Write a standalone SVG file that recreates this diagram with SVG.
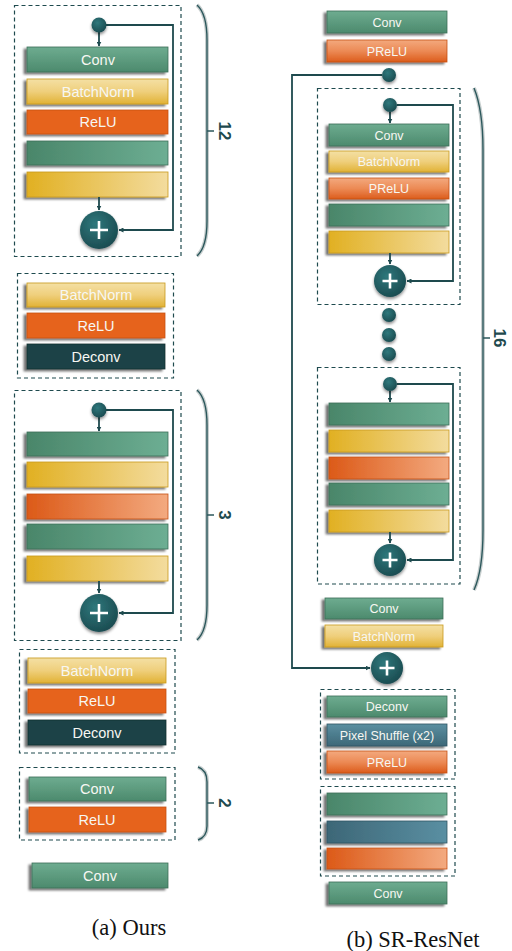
<svg xmlns="http://www.w3.org/2000/svg" width="512" height="951" viewBox="0 0 512 951">
<style>
.dash{fill:none;stroke:#1e4a4e;stroke-width:1.2;stroke-dasharray:4 3}
.conn{fill:none;stroke:#1e4a4e;stroke-width:1.8}
.brace{fill:none;stroke:#2c585c;stroke-width:1.4}
.halo{fill:none;stroke:#c8cfcf;stroke-width:4}
.bar{filter:url(#sh)}
.lbl{font-family:"Liberation Sans","DejaVu Sans",sans-serif;fill:#f7f7f2;text-anchor:middle}
.l1{font-size:14.5px}
.l2{font-size:12.5px}
.num{font-family:"Liberation Sans","DejaVu Sans",sans-serif;font-size:17px;font-weight:bold;fill:#1e4a4e;text-anchor:middle}
.cap{font-family:"Liberation Serif","Times New Roman",serif;font-size:22.5px;fill:#111;text-anchor:middle}
.node{fill:url(#gNode);filter:url(#sh2)}
.plus{stroke:#fff;stroke-width:2.6}
</style>
<defs>
<filter id="sh" x="-10%" y="-30%" width="120%" height="160%">
<feDropShadow dx="-3" dy="2" stdDeviation="1.2" flood-color="#000" flood-opacity="0.55"/>
</filter>
<filter id="sh2" x="-40%" y="-40%" width="180%" height="180%">
<feDropShadow dx="0" dy="2" stdDeviation="1.5" flood-color="#000" flood-opacity="0.45"/>
</filter>
<radialGradient id="gNode" cx="0.4" cy="0.35" r="0.7">
<stop offset="0" stop-color="#2f787c"/>
<stop offset="1" stop-color="#1a4a4f"/>
</radialGradient>
<linearGradient id="gConvV" x1="0" y1="0" x2="0" y2="1">
<stop offset="0" stop-color="#6eac90"/>
<stop offset="1" stop-color="#4c8a6d"/>
</linearGradient>
<linearGradient id="gBnV" x1="0" y1="0" x2="0" y2="1">
<stop offset="0" stop-color="#f4e0a4"/>
<stop offset="0.5" stop-color="#efcf7c"/>
<stop offset="1" stop-color="#e1b235"/>
</linearGradient>
<linearGradient id="gPrV" x1="0" y1="0" x2="0" y2="1">
<stop offset="0" stop-color="#f3a97e"/>
<stop offset="0.5" stop-color="#ec8a55"/>
<stop offset="1" stop-color="#dc5c1c"/>
</linearGradient>
<linearGradient id="gBlV" x1="0" y1="0" x2="0" y2="1">
<stop offset="0" stop-color="#5b8fa1"/>
<stop offset="1" stop-color="#3d6878"/>
</linearGradient>
<linearGradient id="gGrH" x1="0" y1="0" x2="1" y2="0">
<stop offset="0" stop-color="#4a866a"/>
<stop offset="1" stop-color="#6dae93"/>
</linearGradient>
<linearGradient id="gYeH" x1="0" y1="0" x2="1" y2="0">
<stop offset="0" stop-color="#e1b022"/>
<stop offset="1" stop-color="#f3dc9e"/>
</linearGradient>
<linearGradient id="gOrH" x1="0" y1="0" x2="1" y2="0">
<stop offset="0" stop-color="#dc5a18"/>
<stop offset="1" stop-color="#f3aa80"/>
</linearGradient>
<linearGradient id="gBlH" x1="0" y1="0" x2="1" y2="0">
<stop offset="0" stop-color="#3d6777"/>
<stop offset="1" stop-color="#5a8fa2"/>
</linearGradient>
<marker id="arr" viewBox="0 0 10 10" refX="9" refY="5" markerWidth="5" markerHeight="5" orient="auto-start-reverse" markerUnits="userSpaceOnUse">
<path d="M0,0 L10,5 L0,10 z" fill="#1e4a4e"/>
</marker>
</defs>

<!-- ============ (a) Ours ============ -->
<g id="a-block1">
<rect class="dash" x="14.5" y="5.5" width="166.5" height="251"/>
<rect class="bar" x="27" y="47" width="141" height="25" fill="url(#gConvV)" stroke="#3d6f58" stroke-width="0.8"/>
<text class="lbl l1" x="98" y="64.5">Conv</text>
<rect class="bar" x="27" y="79" width="141" height="25" fill="url(#gBnV)" stroke="#c99a1e" stroke-width="0.8"/>
<text class="lbl l1" x="98" y="96.5">BatchNorm</text>
<rect class="bar" x="27" y="110" width="141" height="24" fill="#e6631a" stroke="#c65212" stroke-width="0.8"/>
<text class="lbl l1" x="98" y="127">ReLU</text>
<rect class="bar" x="27" y="141" width="141" height="24" fill="url(#gGrH)" stroke="#3d6f58" stroke-width="0.8"/>
<rect class="bar" x="27" y="172" width="141" height="25" fill="url(#gYeH)" stroke="#c99a1e" stroke-width="0.8"/>
</g>

<g id="a-block2">
<rect class="dash" x="17.5" y="273.5" width="156" height="104.5"/>
<rect class="bar" x="27" y="283" width="138" height="24" fill="url(#gBnV)" stroke="#c99a1e" stroke-width="0.8"/>
<text class="lbl l1" x="96" y="300">BatchNorm</text>
<rect class="bar" x="27" y="313" width="138" height="25" fill="#e6631a" stroke="#c65212" stroke-width="0.8"/>
<text class="lbl l1" x="96" y="330.5">ReLU</text>
<rect class="bar" x="27" y="344" width="138" height="25" fill="#1b4246" stroke="#12302f" stroke-width="0.8"/>
<text class="lbl l1" x="96" y="361.5">Deconv</text>
</g>

<g id="a-block3">
<rect class="dash" x="14.5" y="390.5" width="166.5" height="250"/>
<rect class="bar" x="27" y="432" width="141" height="24" fill="url(#gGrH)" stroke="#3d6f58" stroke-width="0.8"/>
<rect class="bar" x="27" y="462" width="141" height="25" fill="url(#gYeH)" stroke="#c99a1e" stroke-width="0.8"/>
<rect class="bar" x="27" y="494" width="141" height="25" fill="url(#gOrH)" stroke="#c65212" stroke-width="0.8"/>
<rect class="bar" x="27" y="524" width="141" height="25" fill="url(#gGrH)" stroke="#3d6f58" stroke-width="0.8"/>
<rect class="bar" x="27" y="556" width="141" height="25" fill="url(#gYeH)" stroke="#c99a1e" stroke-width="0.8"/>
</g>

<g id="a-block4">
<rect class="dash" x="19.5" y="649.5" width="155.5" height="103.5"/>
<rect class="bar" x="28" y="658" width="138" height="25" fill="url(#gBnV)" stroke="#c99a1e" stroke-width="0.8"/>
<text class="lbl l1" x="97" y="675.5">BatchNorm</text>
<rect class="bar" x="28" y="689" width="138" height="24" fill="#e6631a" stroke="#c65212" stroke-width="0.8"/>
<text class="lbl l1" x="97" y="706">ReLU</text>
<rect class="bar" x="28" y="720" width="138" height="25" fill="#1b4246" stroke="#12302f" stroke-width="0.8"/>
<text class="lbl l1" x="97" y="737.5">Deconv</text>
</g>

<g id="a-block5">
<rect class="dash" x="19.5" y="767.5" width="155.5" height="72.5"/>
<rect class="bar" x="29" y="777" width="137" height="24" fill="url(#gConvV)" stroke="#3d6f58" stroke-width="0.8"/>
<text class="lbl l1" x="97" y="794">Conv</text>
<rect class="bar" x="29" y="807" width="137" height="25" fill="#e6631a" stroke="#c65212" stroke-width="0.8"/>
<text class="lbl l1" x="97" y="824.5">ReLU</text>
</g>

<g id="a-conv-final">
<rect class="bar" x="32" y="863" width="136" height="25" fill="url(#gConvV)" stroke="#3d6f58" stroke-width="0.8"/>
<text class="lbl l1" x="100" y="880.5">Conv</text>
</g>

<g id="a-braces">
<path class="halo" d="M197,5 Q207,14 207,40 L207,221 Q207,247 197,256"/>
<path class="brace" d="M197,5 Q207,14 207,40 L207,221 Q207,247 197,256 M207,131 L214,131"/>
<text class="num" transform="translate(225,131) rotate(90)" y="6">12</text>
<path class="halo" d="M197,390 Q207,399 207,425 L207,605 Q207,631 197,640"/>
<path class="brace" d="M197,390 Q207,399 207,425 L207,605 Q207,631 197,640 M207,515 L214,515"/>
<text class="num" transform="translate(225,515) rotate(90)" y="6">3</text>
<path class="halo" d="M198,767 Q207,770 207,782 L207,826 Q207,837 198,840"/>
<path class="brace" d="M198,767 Q207,770 207,782 L207,826 Q207,837 198,840 M207,803 L214,803"/>
<text class="num" transform="translate(225,803) rotate(90)" y="6">2</text>
</g>

<!-- ============ (b) SR-ResNet ============ -->
<g id="b-head">
<rect class="bar" x="327" y="11" width="120" height="22" fill="url(#gConvV)" stroke="#3d6f58" stroke-width="0.8"/>
<text class="lbl l2" x="387" y="26.5">Conv</text>
<rect class="bar" x="327" y="40" width="120" height="22" fill="url(#gPrV)" stroke="#c65212" stroke-width="0.8"/>
<text class="lbl l2" x="387" y="55.5">PReLU</text>
</g>

<g id="b-block1">
<rect class="dash" x="317.5" y="88.5" width="142.5" height="216"/>
<rect class="bar" x="329" y="124" width="120" height="22" fill="url(#gConvV)" stroke="#3d6f58" stroke-width="0.8"/>
<text class="lbl l2" x="389" y="139.5">Conv</text>
<rect class="bar" x="329" y="151" width="120" height="21" fill="url(#gBnV)" stroke="#c99a1e" stroke-width="0.8"/>
<text class="lbl l2" x="389" y="166">BatchNorm</text>
<rect class="bar" x="329" y="178" width="120" height="21" fill="url(#gPrV)" stroke="#c65212" stroke-width="0.8"/>
<text class="lbl l2" x="389" y="193">PReLU</text>
<rect class="bar" x="329" y="204" width="120" height="22" fill="url(#gGrH)" stroke="#3d6f58" stroke-width="0.8"/>
<rect class="bar" x="329" y="231" width="120" height="22" fill="url(#gYeH)" stroke="#c99a1e" stroke-width="0.8"/>
</g>

<g id="b-dots">
<circle class="node" cx="389" cy="315" r="7"/>
<circle class="node" cx="389" cy="335" r="7"/>
<circle class="node" cx="389" cy="354" r="7"/>
</g>

<g id="b-block2">
<rect class="dash" x="317.5" y="367.5" width="142.5" height="216.5"/>
<rect class="bar" x="329" y="403" width="120" height="22" fill="url(#gGrH)" stroke="#3d6f58" stroke-width="0.8"/>
<rect class="bar" x="329" y="430" width="120" height="22" fill="url(#gYeH)" stroke="#c99a1e" stroke-width="0.8"/>
<rect class="bar" x="329" y="457" width="120" height="22" fill="url(#gOrH)" stroke="#c65212" stroke-width="0.8"/>
<rect class="bar" x="329" y="483" width="120" height="22" fill="url(#gGrH)" stroke="#3d6f58" stroke-width="0.8"/>
<rect class="bar" x="329" y="510" width="120" height="22" fill="url(#gYeH)" stroke="#c99a1e" stroke-width="0.8"/>
</g>

<g id="b-mid">
<rect class="bar" x="325" y="598" width="118" height="21" fill="url(#gConvV)" stroke="#3d6f58" stroke-width="0.8"/>
<text class="lbl l2" x="384" y="613">Conv</text>
<rect class="bar" x="325" y="625" width="118" height="22" fill="url(#gBnV)" stroke="#c99a1e" stroke-width="0.8"/>
<text class="lbl l2" x="384" y="640.5">BatchNorm</text>
</g>

<g id="b-block3">
<rect class="dash" x="320.5" y="689.5" width="134.5" height="89.5"/>
<rect class="bar" x="327" y="696" width="120" height="21" fill="url(#gConvV)" stroke="#3d6f58" stroke-width="0.8"/>
<text class="lbl l2" x="387" y="711">Deconv</text>
<rect class="bar" x="327" y="724" width="120" height="22" fill="url(#gBlV)" stroke="#2f5563" stroke-width="0.8"/>
<text class="lbl l2" x="387" y="739.5">Pixel Shuffle (x2)</text>
<rect class="bar" x="327" y="751" width="120" height="22" fill="url(#gPrV)" stroke="#c65212" stroke-width="0.8"/>
<text class="lbl l2" x="387" y="766.5">PReLU</text>
</g>

<g id="b-block4">
<rect class="dash" x="320.5" y="786.5" width="134.5" height="89.5"/>
<rect class="bar" x="327" y="793" width="120" height="22" fill="url(#gGrH)" stroke="#3d6f58" stroke-width="0.8"/>
<rect class="bar" x="327" y="821" width="120" height="22" fill="url(#gBlH)" stroke="#2f5563" stroke-width="0.8"/>
<rect class="bar" x="327" y="848" width="120" height="21" fill="url(#gOrH)" stroke="#c65212" stroke-width="0.8"/>
</g>

<g id="b-conv-final">
<rect class="bar" x="329" y="882" width="118" height="22" fill="url(#gConvV)" stroke="#3d6f58" stroke-width="0.8"/>
<text class="lbl l2" x="388" y="897.5">Conv</text>
</g>

<g id="b-brace">
<path class="halo" d="M474,88 Q483,110 483,150 L483,530 Q483,570 474,590"/>
<path class="brace" d="M474,88 Q483,110 483,150 L483,530 Q483,570 474,590 M483,338 L490,338"/>
<text class="num" transform="translate(500,338) rotate(90)" y="6">16</text>
</g>

<!-- connectors -->
<g id="connectors">
<path class="conn" d="M99,32 L99,46" marker-end="url(#arr)"/>
<path class="conn" d="M106,25 L173,25 L173,230 L119,230" marker-end="url(#arr)"/>
<path class="conn" d="M99,197 L99,210" marker-end="url(#arr)"/>
<path class="conn" d="M99,417 L99,431" marker-end="url(#arr)"/>
<path class="conn" d="M106,410 L173,410 L173,613 L119,613" marker-end="url(#arr)"/>
<path class="conn" d="M99,581 L99,593" marker-end="url(#arr)"/>

<path class="conn" d="M382,75 L292,75 L292,668 L370,668" marker-end="url(#arr)"/>
<path class="conn" d="M390,112 L390,123" marker-end="url(#arr)"/>
<path class="conn" d="M397,105 L453,105 L453,281 L407,281" marker-end="url(#arr)"/>
<path class="conn" d="M390,253 L390,264" marker-end="url(#arr)"/>
<path class="conn" d="M390,391 L390,402" marker-end="url(#arr)"/>
<path class="conn" d="M397,384 L453,384 L453,560 L407,560" marker-end="url(#arr)"/>
<path class="conn" d="M390,532 L390,543" marker-end="url(#arr)"/>
</g>

<g id="a-in1"><circle class="node" cx="99" cy="25" r="7.5"/></g>
<g id="a-add1"><circle class="node" cx="99" cy="230" r="19"/><path class="plus" d="M90,230 L108,230 M99,221 L99,239"/></g>
<g id="a-in3"><circle class="node" cx="99" cy="410" r="7.5"/></g>
<g id="a-add3"><circle class="node" cx="99" cy="613" r="19"/><path class="plus" d="M90,613 L108,613 M99,604 L99,622"/></g>

<g id="b-in0"><circle class="node" cx="389" cy="75" r="7"/></g>
<g id="b-in1"><circle class="node" cx="390" cy="105" r="7"/></g>
<g id="b-add1"><circle class="node" cx="390" cy="281" r="16"/><path class="plus" d="M382.5,281 L397.5,281 M390,273.5 L390,288.5"/></g>
<g id="b-in2"><circle class="node" cx="390" cy="384" r="7"/></g>
<g id="b-add2"><circle class="node" cx="390" cy="560" r="16"/><path class="plus" d="M382.5,560 L397.5,560 M390,552.5 L390,567.5"/></g>
<g id="b-add3"><circle class="node" cx="387" cy="668" r="16"/><path class="plus" d="M379.5,668 L394.5,668 M387,660.5 L387,675.5"/></g>

<text class="cap" x="129" y="935">(a) Ours</text>
<text class="cap" x="413" y="947">(b) SR-ResNet</text>
</svg>
